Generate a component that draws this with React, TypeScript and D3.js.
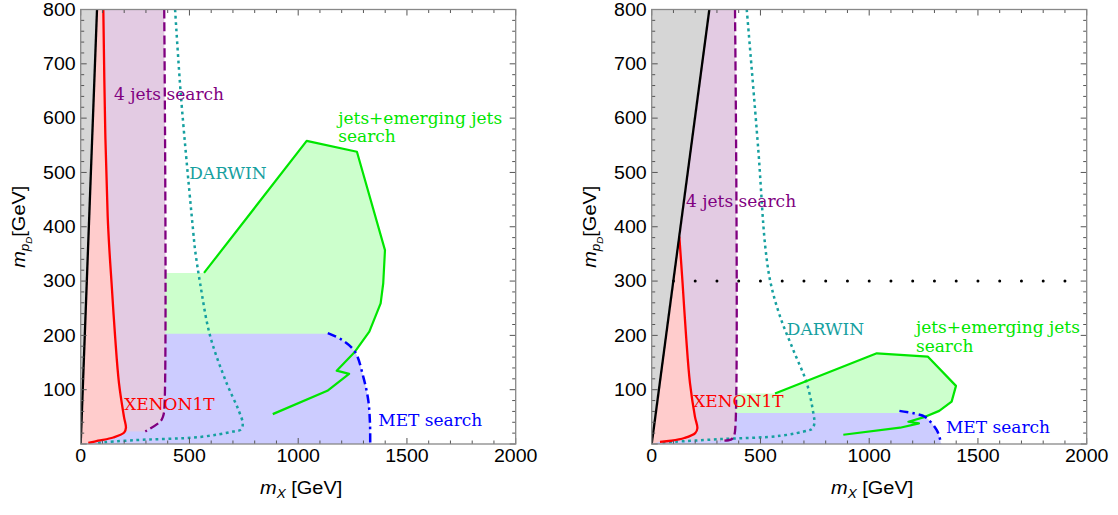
import React from 'react';
import * as d3 from 'd3';

type Pt = [number, number];

// ---- left panel ----
const blackA: Pt[] = [[0, 0], [75, 800]];
const xenonA: Pt[] = [[104, 800], [113, 573], [124, 420], [132, 357], [142, 296], [158, 199], [176, 112], [199, 50], [208, 30], [200, 21], [150, 12], [80, 6], [35, 2]];
const jetsA: Pt[] = [[384, 800], [384, 62], [378, 50], [365, 41], [297, 23]];
const jetsBottomA = 24;
const darwinA: Pt[] = [[434, 800], [461, 640], [518, 388], [526, 357], [549, 296], [595, 199], [671, 112], [725, 63], [745, 38], [738, 27], [702, 23], [549, 13], [242, 7], [89, 2.4], [80, 1.5]];
const emergingA: Pt[] = [[567, 315], [1039, 558], [1270, 538], [1399, 357], [1391, 296], [1379, 259], [1327, 207], [1261, 170], [1177, 135], [1234, 129], [1134, 98], [883, 55]];
const metA: Pt[] = [[1136, 204], [1200, 192], [1261, 170], [1299, 124], [1322, 81], [1330, 38], [1331, 0]];
const metTopA = 203;

// ---- right panel ----
const blackB: Pt[] = [[0, 0], [265, 800]];
const xenonB: Pt[] = [[127, 382], [142, 296], [158, 199], [176, 112], [199, 50], [210, 29], [200, 20], [150, 11], [90, 6], [38, 4]];
const jetsB: Pt[] = [[383, 800], [383, 23], [376, 13], [364, 8], [314, 6]];
const jetsBottomB = 6;
const darwinB: Pt[] = [[437, 800], [490, 542], [522, 364], [547, 296], [590, 235], [651, 173], [713, 112], [743, 57], [748, 38], [738, 28], [720, 25], [590, 15], [314, 9], [100, 4], [38, 2.4]];
const emergingB: Pt[] = [[567, 93], [1035, 167], [1269, 161], [1399, 107], [1379, 78], [1322, 61], [1257, 50], [1180, 41], [1229, 38], [1142, 30], [881, 17]];
const metB: Pt[] = [[1139, 61], [1210, 56], [1257, 50], [1310, 26], [1325, 10], [1330, 0]];
const metTopB = 57;
const dottedB: Pt[] = [[100, 300], [2000, 300]];

const xTicks = [0, 500, 1000, 1500, 2000];
const yTicks = [100, 200, 300, 400, 500, 600, 700, 800];

const panels = [
  {
    id: 'a', left: 80.7,
    black: blackA, xenon: xenonA, jets: jetsA, jetsBottom: jetsBottomA, darwin: darwinA,
    emerging: emergingA, met: metA, metTop: metTopA, dotted: null as Pt[] | null,
    labels: {
      jets: [153, 634], darwin: [499, 487], emerging: [1184, 590], xenon: [200, 63], met: [1368, 34],
    },
  },
  {
    id: 'b', left: 651.7,
    black: blackB, xenon: xenonB, jets: jetsB, jetsBottom: jetsBottomB, darwin: darwinB,
    emerging: emergingB, met: metB, metTop: metTopB, dotted: dottedB,
    labels: {
      jets: [158, 437], darwin: [621, 201], emerging: [1215, 204], xenon: [191, 69], met: [1353, 21],
    },
  },
];

const W = 435;
const H = 434.5;
const TOP = 9.5;
const SANS = '"Liberation Sans", Arial, sans-serif';
const SERIF = '"DejaVu Serif", serif';
const STRETCH = 1.12;

const C = {
  gray: '#d6d6d6', pink: '#ffcccc', purpleFill: '#e3cbe3', greenFill: '#ccffcc', blueFill: '#ccccff',
  red: '#ff0000', purple: '#800080', teal: '#16a0a0', green: '#00e600', blue: '#0000ff',
};

function Panel({ p }: { p: (typeof panels)[number] }) {
  const x = d3.scaleLinear().domain([0, 2000]).range([0, W]);
  const y = d3.scaleLinear().domain([0, 800]).range([H, 0]);
  const line = d3.line<Pt>().x(d => x(d[0])).y(d => y(d[1]));
  const smooth = d3.line<Pt>().x(d => x(d[0])).y(d => y(d[1])).curve(d3.curveCatmullRom.alpha(0.5));
  const cont = (pts: Pt[]) => 'L' + (smooth(pts) as string).slice(1);
  const to = (pt: Pt) => 'L' + x(pt[0]) + ',' + y(pt[1]);

  const [b0, b1] = p.black;
  const gray = line([b0, b1, [0, 800]]) + 'Z';
  const pink = line([b0, b1]) + cont(p.xenon) + 'Z';
  const purple = line([[0, 800], p.jets[0]]) + cont(p.jets) + to([0, p.jetsBottom]) + 'Z';
  const last = p.emerging[p.emerging.length - 1];
  const greenFill = line([[p.jets[0][0], p.emerging[0][1]], ...p.emerging, [p.jets[0][0], last[1]]]) + 'Z';
  const blue = line([[0, p.metTop], [p.met[0][0], p.metTop]]) + cont(p.met) + to([0, 0]) + 'Z';

  const lbl = p.labels;
  const xMinor = d3.range(0, 2001, 100);
  const yMinor = d3.range(0, 801, 20);
  const clip = `clip-${p.id}`;

  return (
    <g transform={`translate(${p.left},${TOP})`}>
      <defs>
        <clipPath id={clip}><rect x={0} y={0} width={W} height={H} /></clipPath>
      </defs>
      <g clipPath={`url(#${clip})`}>
        <path d={greenFill} fill={C.greenFill} />
        <path d={blue} fill={C.blueFill} />
        <path d={purple} fill={C.purpleFill} />
        <path d={pink} fill={C.pink} />
        <path d={gray} fill={C.gray} />
        {p.dotted && (
          <path d={line(p.dotted)!} stroke="#000" strokeWidth={3} strokeLinecap="round" strokeDasharray="0,21.75" fill="none" />
        )}
        <path d={smooth(p.darwin)!} stroke={C.teal} strokeWidth={2.5} strokeDasharray="2.8,3.6" fill="none" />
        <path d={line(p.emerging)!} stroke={C.green} strokeWidth={2.2} fill="none" strokeLinejoin="round" />
        <path d={smooth(p.met)!} stroke={C.blue} strokeWidth={2.5} strokeDasharray="9,4,2.5,4" fill="none" />
        <path d={smooth(p.jets)!} stroke={C.purple} strokeWidth={2.3} strokeDasharray="9,4" fill="none" />
        <path d={smooth(p.xenon)!} stroke={C.red} strokeWidth={2.3} fill="none" />
        <path d={line(p.black)!} stroke="#000" strokeWidth={2.3} fill="none" />
      </g>

      <g fontFamily={SERIF} fontSize={17}>
        <text x={x(lbl.jets[0])} y={y(lbl.jets[1])} fill={C.purple}>4 jets search</text>
        <text x={x(lbl.darwin[0])} y={y(lbl.darwin[1])} fill={C.teal}>DARWIN</text>
        <text x={x(lbl.emerging[0])} y={y(lbl.emerging[1])} fill={C.green}>
          <tspan>jets+emerging jets</tspan>
          <tspan x={x(lbl.emerging[0])} dy={18.5}>search</tspan>
        </text>
        <text x={x(lbl.xenon[0])} y={y(lbl.xenon[1])} fill={C.red}>XENON1T</text>
        <text x={x(lbl.met[0])} y={y(lbl.met[1])} fill={C.blue}>MET search</text>
      </g>

      {/* ticks point inward on all four sides */}
      <g stroke="#555" strokeWidth={1}>
        {xMinor.map(v => {
          const len = v % 500 === 0 ? 6 : 3.5;
          return (
            <g key={'x' + v}>
              <line x1={x(v)} x2={x(v)} y1={H} y2={H - len} />
              <line x1={x(v)} x2={x(v)} y1={0} y2={len} />
            </g>
          );
        })}
        {yMinor.map(v => {
          const len = v % 100 === 0 ? 6 : 3.5;
          return (
            <g key={'y' + v}>
              <line x1={0} x2={len} y1={y(v)} y2={y(v)} />
              <line x1={W} x2={W - len} y1={y(v)} y2={y(v)} />
            </g>
          );
        })}
      </g>
      <rect x={0} y={0} width={W} height={H} fill="none" stroke="#888" strokeWidth={1.3} />

      <g fontFamily={SANS} fontSize={17.5} fill="#000">
        {xTicks.map(v => (
          <text key={v} transform={`translate(${x(v)},${H + 18}) scale(${STRETCH},1)`} textAnchor="middle">{v}</text>
        ))}
        {yTicks.map(v => (
          <text key={v} transform={`translate(-5,${y(v) + 6.2}) scale(${STRETCH},1)`} textAnchor="end">{v}</text>
        ))}
      </g>

      <text transform={`translate(${W / 2 + 3},${H + 50}) scale(1.08,1)`} textAnchor="middle" fontFamily={SANS} fontSize={18.5}>
        <tspan fontStyle="italic">m</tspan>
        <tspan fontStyle="italic" fontSize={12.5} dy={4}>X</tspan>
        <tspan dy={-4}> [GeV]</tspan>
      </text>
      <text transform={`translate(-56,${H / 2}) rotate(-90) scale(1.08,1)`} textAnchor="middle" fontFamily={SANS} fontSize={18.5}>
        <tspan fontStyle="italic">m</tspan>
        <tspan fontStyle="italic" fontSize={12.5} dy={4}>p</tspan>
        <tspan fontStyle="italic" fontSize={9} dy={3}>D</tspan>
        <tspan dy={-7}>[GeV]</tspan>
      </text>
    </g>
  );
}

export default function App() {
  return (
    <div style={{ position: 'absolute', left: 0, top: 0, background: '#fff' }}>
      <svg width={1118} height={515} style={{ display: 'block' }}>
        <rect width={1118} height={515} fill="#fff" />
        {panels.map(p => <Panel key={p.id} p={p} />)}
      </svg>
    </div>
  );
}
